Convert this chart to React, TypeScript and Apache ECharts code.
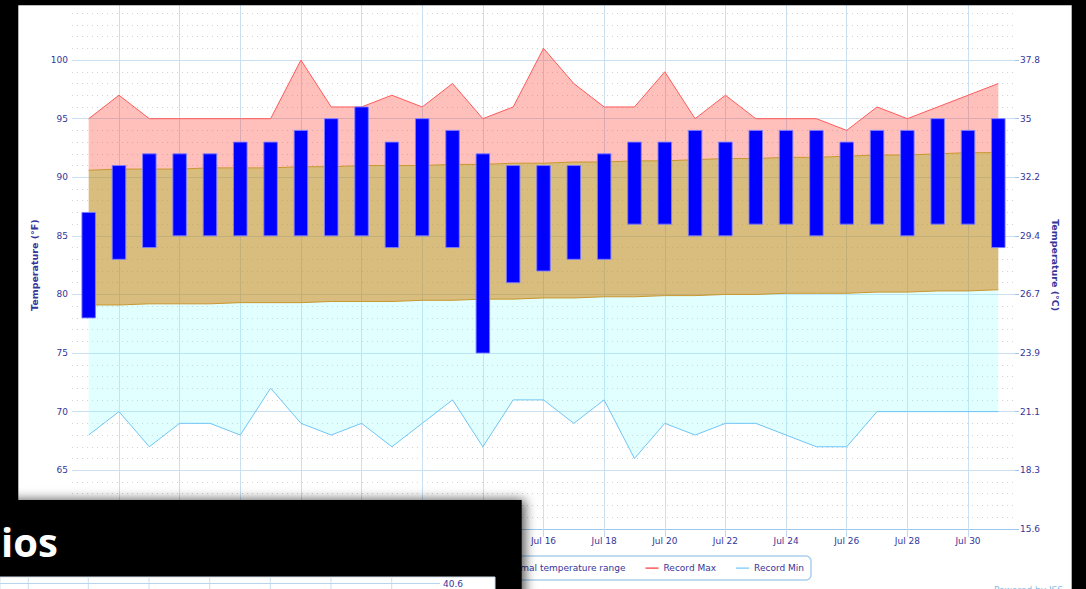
import React, { useEffect, useRef } from "react";
import * as echarts from "echarts";

// ---- data (July, °F) ----
const days = [1, 2, 3, 4, 5, 6, 7, 8, 9, 10, 11, 12, 13, 14, 15, 16, 17, 18, 19, 20, 21, 22, 23, 24, 25, 26, 27, 28, 29, 30, 31];
const xLabelDays = [2, 4, 6, 8, 10, 12, 14, 16, 18, 20, 22, 24, 26, 28, 30];

const tempHigh = [87, 91, 92, 92, 92, 93, 93, 94, 95, 96, 93, 95, 94, 92, 91, 91, 91, 92, 93, 93, 94, 93, 94, 94, 94, 93, 94, 94, 95, 94, 95];
const tempLow = [78, 83, 84, 85, 85, 85, 85, 85, 85, 85, 84, 85, 84, 75, 81, 82, 83, 83, 86, 86, 85, 85, 86, 86, 85, 86, 86, 85, 86, 86, 84];

const recordMax = [95, 97, 95, 95, 95, 95, 95, 100, 96, 96, 97, 96, 98, 95, 96, 101, 98, 96, 96, 99, 95, 97, 95, 95, 95, 94, 96, 95, 96, 97, 98];
const recordMin = [68, 70, 67, 69, 69, 68, 72, 69, 68, 69, 67, 69, 71, 67, 71, 71, 69, 71, 66, 69, 68, 69, 69, 68, 67, 67, 70, 70, 70, 70, 70];

const normalMax = [90.6, 90.7, 90.7, 90.7, 90.8, 90.8, 90.8, 90.9, 90.9, 91.0, 91.0, 91.0, 91.1, 91.1, 91.2, 91.2, 91.3, 91.3, 91.4, 91.4, 91.5, 91.6, 91.6, 91.7, 91.7, 91.8, 91.9, 91.9, 92.0, 92.1, 92.1];
const normalMin = [79.1, 79.1, 79.2, 79.2, 79.2, 79.3, 79.3, 79.3, 79.4, 79.4, 79.4, 79.5, 79.5, 79.6, 79.6, 79.7, 79.7, 79.8, 79.8, 79.9, 79.9, 80.0, 80.0, 80.1, 80.1, 80.1, 80.2, 80.2, 80.3, 80.3, 80.4];

const NAVY = "#35359a";
const FONT = "DejaVu Sans";
const GRID_BLUE = "#cadff0";

const LINE_ICON = "path://M0,0 M0,6.5 L13,6.5 L13,7.7 L0,7.7 Z M13,14";

function toC(v: number): string {
  let s = (((v - 32) * 5) / 9).toFixed(1);
  if (s.endsWith(".0")) s = s.slice(0, -2);
  return s;
}

export default function App() {
  const ref = useRef<HTMLDivElement>(null);

  useEffect(() => {
    if (!ref.current) return;
    const chart = echarts.init(ref.current, undefined, { renderer: "svg" });

    // value first, day second, so that stacking happens on the y value
    const base = days.map((d, i) => [recordMin[i], d]);
    const cyanBand = days.map((d, i) => [normalMin[i] - recordMin[i], d]);
    const normalBand = days.map((d, i) => [normalMax[i] - normalMin[i], d]);
    const maxBand = days.map((d, i) => [recordMax[i] - normalMax[i], d]);
    const bars = days.map((d, i) => [d, tempLow[i], tempHigh[i]]);

    const stripLinesX = [28.3, 88.3, 149, 209.7, 270.3, 331, 391.7];

    const bandSeries = (name: string, data: number[][], line: string, area: string | null, item?: string) => ({
      name,
      type: "line",
      stack: "bands",
      data,
      encode: { x: 1, y: 0 },
      symbol: "none",
      showSymbol: false,
      silent: true,
      lineStyle: { color: line, width: 1 },
      itemStyle: { color: item || line },
      ...(area ? { areaStyle: { color: area, opacity: 1 } } : {}),
      z: 2,
    });

    const option: any = {
      animation: false,
      backgroundColor: "#ffffff",
      textStyle: { fontFamily: FONT },
      grid: { left: 72, right: 71, top: 1.5, bottom: 60.2, containLabel: false },
      legend: {
        data: [
          { name: "Temperatures", icon: "rect" },
          { name: "Normal temperature range", icon: "rect" },
          { name: "Record Max", icon: LINE_ICON },
          { name: "Record Min", icon: LINE_ICON },
        ],
        right: 275,
        top: 556,
        orient: "horizontal",
        itemWidth: 13,
        itemHeight: 14,
        itemGap: 20,
        padding: [5, 7],
        borderColor: "#a9d0ee",
        borderWidth: 1.5,
        borderRadius: 5,
        backgroundColor: "#ffffff",
        textStyle: { fontSize: 9, color: NAVY, fontFamily: FONT },
        selectedMode: false,
      },
      xAxis: {
        type: "value",
        min: 0.45,
        max: 31.55,
        axisLine: { show: true, lineStyle: { color: "#9cc7ea", width: 1 } },
        axisTick: { show: true, length: 8, customValues: xLabelDays, lineStyle: { color: "#bcd7ee" } },
        axisLabel: {
          customValues: xLabelDays,
          formatter: (v: number) => "Jul " + v,
          margin: 8,
          fontSize: 9,
          color: NAVY,
          fontFamily: FONT,
        },
        splitLine: { show: true, lineStyle: { color: GRID_BLUE, width: 1 } },
      },
      yAxis: [
        {
          type: "value",
          min: 60,
          max: 105,
          interval: 5,
          position: "left",
          name: "Temperature (°F)",
          nameLocation: "middle",
          nameRotate: 90,
          nameGap: 31.5,
          nameTextStyle: { fontSize: 9.5, fontWeight: "bold", color: NAVY, fontFamily: FONT },
          axisLine: { show: false },
          axisTick: { show: false },
          axisLabel: { margin: 4, fontSize: 9, color: NAVY, fontFamily: FONT, showMaxLabel: false, showMinLabel: false },
          splitLine: { show: true, lineStyle: { color: GRID_BLUE, width: 1 } },
          minorTick: { show: false, splitNumber: 5 },
          minorSplitLine: { show: true, lineStyle: { color: "#d2d2d2", width: 1, type: [1, 4] } },
        },
        {
          type: "value",
          min: 60,
          max: 105,
          interval: 5,
          position: "right",
          name: "Temperature (°C)",
          nameLocation: "middle",
          nameRotate: -90,
          nameGap: 33,
          nameTextStyle: { fontSize: 9.5, fontWeight: "bold", color: NAVY, fontFamily: FONT },
          axisLine: { show: false },
          axisTick: { show: true, length: 4, lineStyle: { color: "#9cc7ea" } },
          axisLabel: { margin: 5, fontSize: 9, color: NAVY, fontFamily: FONT, showMaxLabel: false, formatter: (v: number) => toC(v) },
          splitLine: { show: false },
        },
      ],
      series: [
        bandSeries("Record Min", base, "#6fc5f5", null),
        bandSeries("NormalLow", cyanBand, "#c9962e", "rgba(140,255,255,0.25)"),
        bandSeries("Normal temperature range", normalBand, "#c9962e", "rgba(190,145,40,0.6)", "#d9bf80"),
        bandSeries("Record Max", maxBand, "#ff5a5a", "rgba(255,60,45,0.33)", "#ff3030"),
        {
          name: "Temperatures",
          type: "custom",
          data: bars,
          encode: { x: 0, y: [1, 2] },
          itemStyle: { color: "#0000ff" },
          silent: true,
          z: 4,
          renderItem: (params: any, api: any) => {
            const x = api.value(0);
            const lo = api.value(1);
            const hi = api.value(2);
            const pTop = api.coord([x, hi]);
            const pBot = api.coord([x, lo]);
            const w = 13.5;
            return {
              type: "rect",
              shape: { x: pTop[0] - w / 2, y: pTop[1], width: w, height: pBot[1] - pTop[1] },
              style: { fill: "#0000ff", stroke: "rgba(125,125,255,0.9)", lineWidth: 1 },
            };
          },
        },
      ],
      graphic: [
        // slide frame
        { type: "rect", z: 100, silent: true, shape: { x: 0, y: 0, width: 1086, height: 5.3 }, style: { fill: "#000" } },
        { type: "rect", z: 100, silent: true, shape: { x: 0, y: 0, width: 18.3, height: 589 }, style: { fill: "#000" } },
        { type: "rect", z: 100, silent: true, shape: { x: 1071.7, y: 0, width: 15, height: 589 }, style: { fill: "#000" } },
        // overlay box with shadow
        {
          type: "rect",
          z: 100,
          silent: true,
          shape: { x: -20, y: 500, width: 541.7, height: 120 },
          style: { fill: "#000", shadowBlur: 12, shadowColor: "rgba(0,0,0,0.7)", shadowOffsetX: 3, shadowOffsetY: 0 },
        },
        {
          type: "text",
          z: 102,
          silent: true,
          style: {
            text: "ios",
            x: 1,
            y: 541,
            fill: "#ffffff",
            font: 'bold 40px "Open Sans"',
            verticalAlign: "middle",
            textVerticalAlign: "middle",
          },
        },
        // strip of another chart under the box
        { type: "rect", z: 101, silent: true, shape: { x: 0, y: 577, width: 495, height: 14 }, style: { fill: "#fff", stroke: "#d3dde8", lineWidth: 1 } },
        ...stripLinesX.map((x) => ({
          type: "line",
          z: 102,
          silent: true,
          shape: { x1: x, y1: 578, x2: x, y2: 589 },
          style: { stroke: GRID_BLUE, lineWidth: 1 },
        })),
        { type: "line", z: 102, silent: true, shape: { x1: 0, y1: 583.5, x2: 440, y2: 583.5 }, style: { stroke: "#b8d5ee", lineWidth: 1 } },
        {
          type: "text",
          z: 103,
          silent: true,
          style: { text: "40.6", x: 443, y: 584.3, fill: NAVY, font: '9px "DejaVu Sans"', verticalAlign: "middle", textVerticalAlign: "middle" },
        },
        {
          type: "text",
          z: 100,
          silent: true,
          style: { text: "Powered by ISS", x: 1063, y: 585.5, fill: "#86bde8", font: '9px "DejaVu Sans"', align: "right", textAlign: "right", verticalAlign: "top", textVerticalAlign: "top" },
        },
      ],
    };

    chart.setOption(option);
    return () => chart.dispose();
  }, []);

  return (
    <div
      ref={ref}
      style={{ position: "fixed", left: 0, top: 0, width: 1086, height: 589, background: "#fff" }}
    />
  );
}
